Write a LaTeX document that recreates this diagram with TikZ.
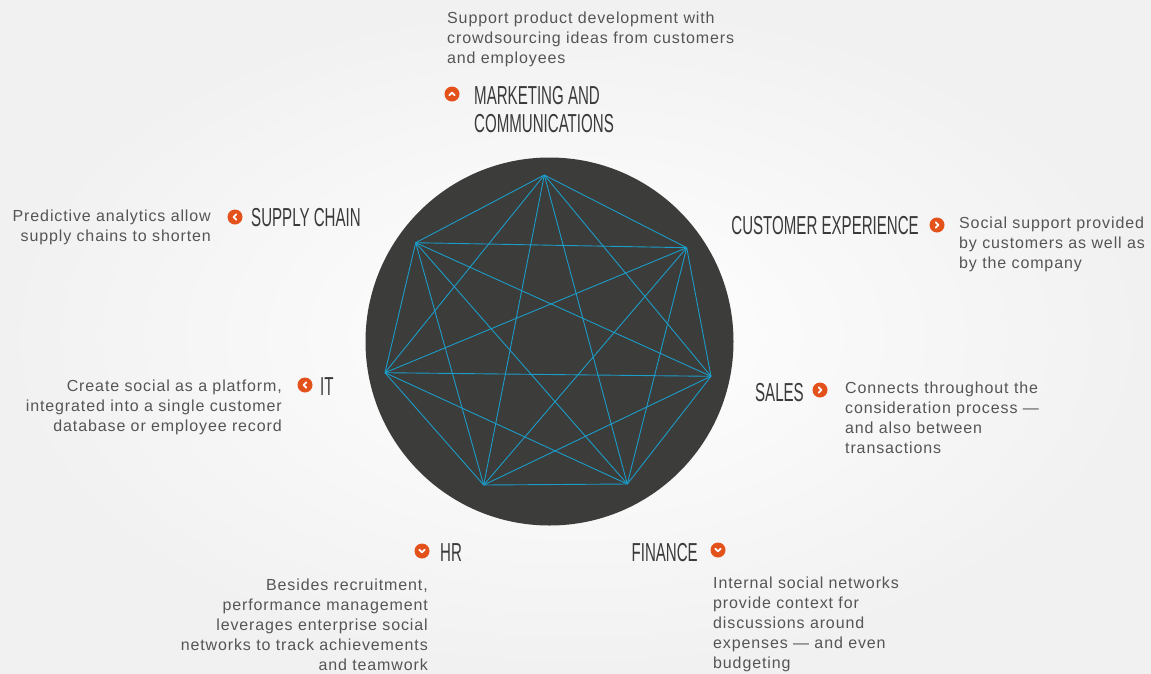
\documentclass[tikz,border=0pt]{standalone}
\usepackage{fontspec}
\setmainfont{Liberation Sans}
\newfontfamily\headfont[FakeStretch=0.58]{Liberation Sans}
\newfontfamily\bodyfont[LetterSpace=5.5]{Liberation Sans}

\definecolor{bggray}{HTML}{F1F1F1}
\definecolor{discgray}{HTML}{3C3C3A}
\definecolor{linkblue}{HTML}{1C9CC8}
\definecolor{badgeorange}{HTML}{E4521C}
\definecolor{headgray}{HTML}{3A3A3A}
\definecolor{textgray}{HTML}{555555}

\newcommand{\chevron}[2]{\draw[chevron, shift={(#1.center)}, rotate=#2] (-2.7,1.3) -- (0,-1.4) -- (2.7,1.3);}

\begin{document}
\begin{tikzpicture}[x=1pt, y=-1pt,
  head/.style={font=\headfont\fontsize{26}{28}\selectfont, text=headgray, inner sep=0pt},
  blurb/.style={font=\bodyfont\fontsize{16}{20}\selectfont, text=textgray, inner sep=0pt},
  badge/.style={circle, fill=badgeorange, minimum size=15pt, inner sep=0pt},
  chevron/.style={white, line width=1.8pt, line cap=round, line join=round},
  link/.style={linkblue, line width=0.9pt}]
\useasboundingbox (0,0) rectangle (1151,673);

% Background
\shade[inner color=white, outer color=bggray] (0,0) rectangle (1151,673);

% Disc and network
\node[circle, fill=discgray, minimum size=368pt, inner sep=0pt] (disc) at (549.5,341.5) {};
\foreach \name/\x/\y in {v1/544.3/175, v2/686.7/247.7, v3/711/376.3, v4/627.3/484,
                         v5/483.7/485, v6/385/372.7, v7/415.7/242.7}
    \coordinate (\name) at (\x,\y);
\foreach \i in {1,...,6} {
    \pgfmathtruncatemacro{\k}{\i+1}
    \foreach \j in {\k,...,7}
        \draw[link] (v\i) -- (v\j);
}

% Marketing and communications (base = last line)
\node[blurb, anchor=base west, align=left] (mktext) at (447,63)
    {Support product development with\\crowdsourcing ideas from customers\\and employees};
\node[badge] (mkbadge) at (452,94) {};
\chevron{mkbadge}{0}
\node[head, anchor=base west, align=left] (mkhead) at (474,132) {MARKETING AND\\COMMUNICATIONS};

% Supply chain
\node[badge] (scbadge) at (235,217) {};
\chevron{scbadge}{90}
\node[head, anchor=base west] (schead) at (251,226) {SUPPLY CHAIN};
\node[blurb, anchor=base east, align=right] (sctext) at (211,241)
    {Predictive analytics allow\\supply chains to shorten};

% Customer experience
\node[badge] (cxbadge) at (937,225) {};
\chevron{cxbadge}{-90}
\node[head, anchor=base east] (cxhead) at (919,234) {CUSTOMER EXPERIENCE};
\node[blurb, anchor=base west, align=left] (cxtext) at (959,268)
    {Social support provided\\by customers as well as\\by the company};

% IT
\node[badge] (itbadge) at (305,385) {};
\chevron{itbadge}{90}
\node[head, anchor=base west] (ithead) at (320,395) {IT};
\node[blurb, anchor=base east, align=right] (ittext) at (282,431)
    {Create social as a platform,\\integrated into a single customer\\database or employee record};

% Sales
\node[badge] (slbadge) at (820,390) {};
\chevron{slbadge}{-90}
\node[head, anchor=base east] (slhead) at (804,401) {SALES};
\node[blurb, anchor=base west, align=left] (sltext) at (845,453)
    {Connects throughout the\\consideration process —\\and also between\\transactions};

% HR
\node[badge] (hrbadge) at (422,551) {};
\chevron{hrbadge}{180}
\node[head, anchor=base west] (hrhead) at (440,561) {HR};
\node[blurb, anchor=base east, align=right] (hrtext) at (428,670)
    {Besides recruitment,\\performance management\\leverages enterprise social\\networks to track achievements\\and teamwork};

% Finance
\node[badge] (fnbadge) at (718,550) {};
\chevron{fnbadge}{180}
\node[head, anchor=base east] (fnhead) at (698,561) {FINANCE};
\node[blurb, anchor=base west, align=left] (fntext) at (713,668)
    {Internal social networks\\provide context for\\discussions around\\expenses — and even\\budgeting};
\end{tikzpicture}
\end{document}
